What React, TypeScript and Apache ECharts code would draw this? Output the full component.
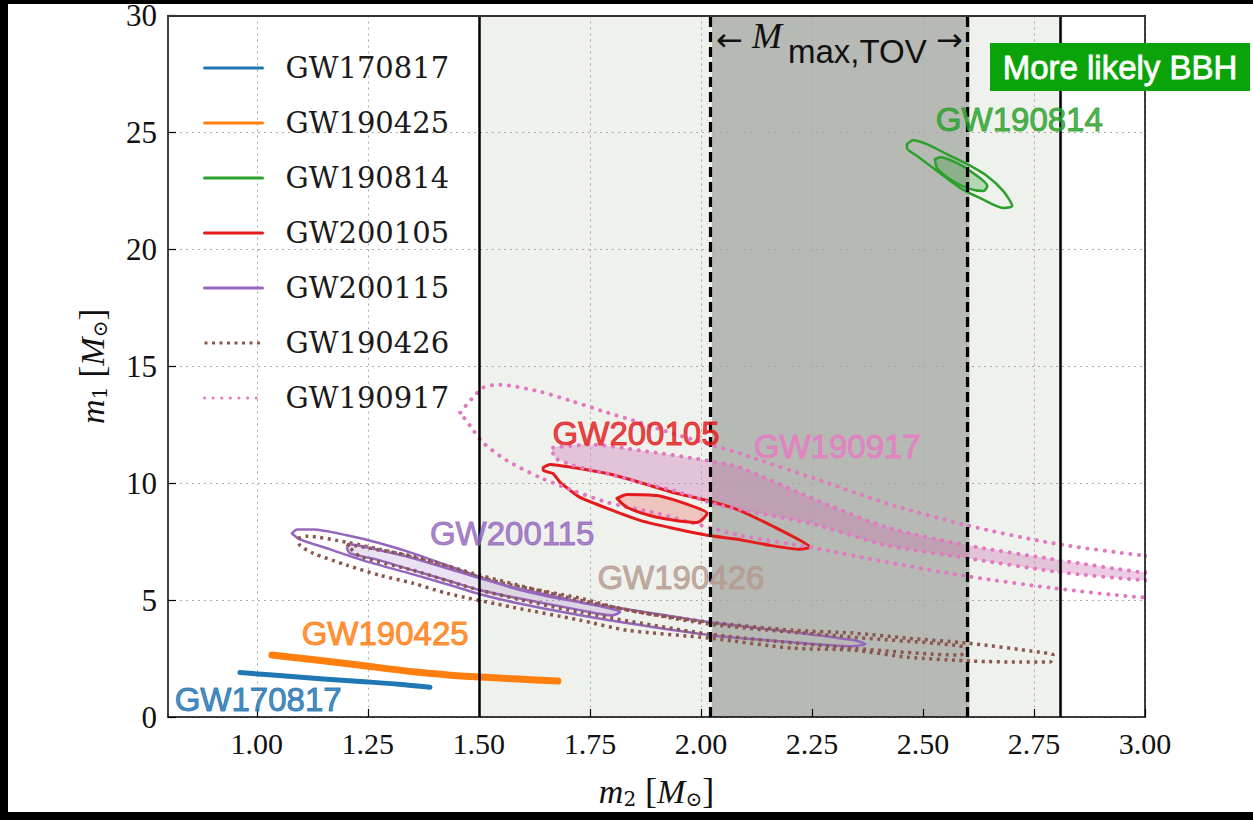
import { useEffect, useRef } from "react";
import * as echarts from "echarts";

// ---------- axes ----------
const X_MIN = 0.8;
const X_MAX = 3.0;
const X_TICKS = [1.0, 1.25, 1.5, 1.75, 2.0, 2.25, 2.5, 2.75, 3.0];
const Y_MIN = 0;
const Y_MAX = 30;
const Y_STEP = 5;

// ---------- regions ----------
const NS_REGION = [1.5, 2.815];
const MTOV_REGION = [2.025, 2.605];

// ---------- events ----------
const LEGEND_NAMES = ["GW170817", "GW190425", "GW190814", "GW200105", "GW200115", "GW190426", "GW190917"];
const LINE_COLORS = ["#1f77b4", "#ff7f0e", "#2ca02c", "#e41a1c", "#9467bd", "#8c564b", "#e377c2"];

// thin posteriors (centre lines)
const GW170817 = [[0.962, 1.9], [1.05, 1.77], [1.15, 1.63], [1.25, 1.5], [1.32, 1.4], [1.39, 1.27]];
const GW190425 = [[1.034, 2.65], [1.12, 2.47], [1.196, 2.3], [1.28, 2.1], [1.359, 1.92], [1.43, 1.8], [1.503, 1.71], [1.59, 1.62], [1.678, 1.54]];

// contour outlines [m2, m1]
const GW190814_OUTER = [[2.464, 24.5], [2.478, 24.67], [2.509, 24.5], [2.554, 24.07], [2.6, 23.64], [2.645, 23.13], [2.681, 22.49], [2.701, 21.85], [2.681, 21.77], [2.629, 22.19], [2.584, 22.62], [2.532, 23.35], [2.487, 23.99], [2.464, 24.33]];
const GW190814_INNER = [[2.527, 23.86], [2.539, 23.94], [2.577, 23.69], [2.613, 23.26], [2.645, 22.71], [2.636, 22.49], [2.6, 22.62], [2.561, 23.0], [2.532, 23.47]];

const GW200105_OUTER = [[1.645, 10.67], [1.66, 10.8], [1.712, 10.67], [1.789, 10.41], [1.863, 10.03], [1.937, 9.6], [2.014, 9.26], [2.088, 8.83], [2.167, 8.11], [2.246, 7.26], [2.223, 7.17], [2.156, 7.34], [2.082, 7.6], [2.014, 7.77], [1.937, 8.07], [1.863, 8.41], [1.789, 8.92], [1.728, 9.39], [1.683, 10.03], [1.667, 10.41], [1.645, 10.54]];
const GW200105_INNER = [[1.811, 9.35], [1.834, 9.52], [1.901, 9.47], [1.976, 9.05], [2.014, 8.71], [1.991, 8.32], [1.901, 8.54], [1.834, 8.96]];

const GW200115_OUTER = [[1.079, 7.85], [1.091, 8.02], [1.127, 8.02], [1.203, 7.77], [1.277, 7.43], [1.352, 7.0], [1.428, 6.49], [1.503, 5.98], [1.577, 5.51], [1.654, 5.16], [1.728, 4.91], [1.834, 4.61], [2.021, 4.05], [2.208, 3.63], [2.343, 3.29], [2.37, 3.12], [2.343, 3.03], [2.178, 3.24], [2.021, 3.5], [1.863, 3.93], [1.728, 4.35], [1.577, 4.91], [1.503, 5.25], [1.428, 5.68], [1.352, 6.1], [1.239, 6.7], [1.165, 7.17], [1.097, 7.6]];
const GW200115_INNER = [[1.203, 7.21], [1.21, 7.38], [1.277, 7.13], [1.352, 6.79], [1.428, 6.36], [1.503, 5.93], [1.577, 5.55], [1.728, 4.91], [1.818, 4.48], [1.8, 4.35], [1.728, 4.57], [1.577, 5.12], [1.503, 5.42], [1.428, 5.85], [1.352, 6.27], [1.277, 6.7], [1.21, 7.0]];

const GW190426_OUTER = [[1.093, 7.64], [1.113, 7.73], [1.203, 7.47], [1.277, 7.17], [1.352, 6.83], [1.428, 6.4], [1.503, 5.98], [1.577, 5.63], [1.728, 5.08], [1.834, 4.57], [2.021, 4.05], [2.208, 3.71], [2.343, 3.59], [2.464, 3.37], [2.6, 3.16], [2.764, 2.77], [2.793, 2.65], [2.786, 2.35], [2.719, 2.35], [2.613, 2.39], [2.464, 2.56], [2.343, 2.86], [2.208, 2.94], [2.021, 3.37], [1.834, 3.71], [1.728, 4.14], [1.577, 4.69], [1.428, 5.29], [1.352, 5.72], [1.277, 6.06], [1.203, 6.49], [1.127, 7.0], [1.097, 7.34]];
const GW190426_INNER = [[1.203, 7.38], [1.352, 6.87], [1.503, 6.06], [1.728, 4.99], [2.021, 3.97], [2.343, 3.41], [2.6, 2.94], [2.584, 2.65], [2.343, 2.94], [2.021, 3.54], [1.728, 4.48], [1.503, 5.42], [1.352, 6.27], [1.232, 6.87]];

const GW190917_OUTER = [[1.458, 13.02], [1.509, 14.08], [1.548, 14.21], [1.638, 13.91], [1.712, 13.49], [1.789, 13.02], [1.863, 12.59], [1.937, 12.12], [2.014, 11.69], [2.088, 11.27], [2.268, 10.12], [2.419, 9.13], [2.6, 8.19], [2.793, 7.43], [2.994, 6.91], [3.06, 6.85], [3.06, 5.1], [2.994, 5.12], [2.793, 5.51], [2.6, 6.02], [2.419, 6.62], [2.246, 7.26], [2.088, 7.77], [1.901, 8.71], [1.789, 9.18], [1.712, 9.69], [1.638, 10.24], [1.563, 10.97], [1.509, 11.74], [1.48, 12.46]];
const GW190917_INNER = [[1.667, 11.52], [1.75, 11.65], [1.863, 11.4], [2.014, 10.97], [2.088, 10.67], [2.246, 9.39], [2.419, 8.11], [2.6, 7.34], [2.809, 6.7], [2.994, 6.19], [3.06, 6.15], [3.06, 5.78], [2.994, 5.85], [2.809, 6.19], [2.6, 6.79], [2.419, 7.34], [2.246, 8.28], [2.043, 9.05], [1.937, 9.69], [1.863, 10.03], [1.789, 10.41], [1.712, 10.76], [1.667, 11.18]];

// ---------- in-plot labels ----------
const LABEL_NAMES = ["GW170817", "GW190425", "GW200115", "GW190426", "GW200105", "GW190917", "GW190814"];
const LABEL_X = [1.003, 1.289, 1.575, 1.955, 1.854, 2.307, 2.717];
const LABEL_Y = [0.73, 3.59, 7.85, 5.98, 12.12, 11.57, 25.57];
const LABEL_COLORS = ["#1a70b0", "#ff7a0a", "#9467bd", "#b59a90", "#e31a1c", "#e77bc4", "#28a028"];

const DOT_PINK: any = [0.1, 8.5];
const DOT_BROWN: any = [3, 4.5];

function closed(pts: number[][]) {
  return [...pts, pts[0]];
}

function contourLine(name: string, pts: number[][], color: string, width: number, type: any, cap = "round", smooth = 0.25) {
  return {
    type: "line",
    name,
    data: closed(pts),
    symbol: "none",
    showSymbol: false,
    smooth,
    clip: true,
    silent: true,
    z: 4,
    itemStyle: { color },
    lineStyle: { color, width, type, cap, join: "round" },
  };
}

function openLine(name: string, pts: number[][], color: string, width: number) {
  return {
    type: "line",
    name,
    data: pts,
    symbol: "none",
    showSymbol: false,
    smooth: 0.3,
    clip: true,
    silent: true,
    z: 4,
    itemStyle: { color },
    lineStyle: { color, width, cap: "round", join: "round" },
  };
}

function fill(name: string, pts: number[][], color: string) {
  return {
    type: "custom",
    name,
    coordinateSystem: "cartesian2d",
    clip: true,
    silent: true,
    z: 3,
    data: [pts[0]],
    renderItem: (_p: any, api: any) => ({
      type: "polygon",
      shape: { points: pts.map((p) => api.coord(p)), smooth: 0.25 },
      style: { fill: color },
    }),
  };
}

const serif = "Liberation Serif";
const sans = "Liberation Sans";

function buildOption() {
  const series: any[] = [];
  series.push({
    type: "line",
    name: "regions",
    data: [],
    z: 1,
    silent: true,
    markArea: {
      silent: true,
      label: { show: false },
      data: [
        [{ xAxis: NS_REGION[0], itemStyle: { color: "#eff1ed" } }, { xAxis: NS_REGION[1] }],
        [{ xAxis: MTOV_REGION[0], itemStyle: { color: "#b6b9b4" } }, { xAxis: MTOV_REGION[1] }],
      ],
    },
  });
  series.push({
    type: "line",
    name: "bounds",
    data: [],
    z: 5,
    silent: true,
    markLine: {
      silent: true,
      symbol: ["none", "none"],
      label: { show: false },
      data: [
        { xAxis: NS_REGION[0], lineStyle: { color: "#000", width: 2.5, type: "solid" } },
        { xAxis: NS_REGION[1], lineStyle: { color: "#000", width: 2.5, type: "solid" } },
        { xAxis: MTOV_REGION[0], lineStyle: { color: "#000", width: 3.2, type: [10, 5] } },
        { xAxis: MTOV_REGION[1], lineStyle: { color: "#000", width: 3.2, type: [10, 5] } },
      ],
    },
  });

  series.push(openLine(LEGEND_NAMES[0], GW170817, LINE_COLORS[0], 5));
  series.push(openLine(LEGEND_NAMES[1], GW190425, LINE_COLORS[1], 7));
  series.push(contourLine(LEGEND_NAMES[2], GW190814_OUTER, LINE_COLORS[2], 2.5, "solid"));
  series.push(contourLine(LEGEND_NAMES[3], GW200105_OUTER, LINE_COLORS[3], 3, "solid", "round", 0.15));
  series.push(contourLine(LEGEND_NAMES[4], GW200115_OUTER, LINE_COLORS[4], 2.5, "solid"));
  series.push(contourLine(LEGEND_NAMES[5], GW190426_OUTER, LINE_COLORS[5], 3.5, DOT_BROWN, "butt"));
  series.push(contourLine(LEGEND_NAMES[6], GW190917_OUTER, LINE_COLORS[6], 4, DOT_PINK));

  series.push(fill("GW190814 fill", GW190814_INNER, "rgba(44,160,44,0.3)"));
  series.push(contourLine("GW190814", GW190814_INNER, LINE_COLORS[2], 2.5, "solid"));
  series.push(fill("GW200105 fill", GW200105_INNER, "rgba(235,80,70,0.28)"));
  series.push(contourLine("GW200105", GW200105_INNER, LINE_COLORS[3], 3, "solid"));
  series.push(fill("GW200115 fill", GW200115_INNER, "rgba(148,103,189,0.2)"));
  series.push(contourLine("GW200115", GW200115_INNER, LINE_COLORS[4], 2.5, "solid"));
  series.push(contourLine("GW190426", GW190426_INNER, LINE_COLORS[5], 3.5, DOT_BROWN, "butt"));
  series.push(fill("GW190917 fill", GW190917_INNER, "rgba(205,120,180,0.38)"));
  series.push(contourLine("GW190917", GW190917_INNER, LINE_COLORS[6], 4, DOT_PINK));

  series.push({
    type: "scatter",
    name: "labels",
    silent: true,
    z: 6,
    symbolSize: 2,
    itemStyle: { color: "rgba(0,0,0,0)" },
    data: LABEL_NAMES.map((n, i) => ({
      name: n,
      value: [LABEL_X[i], LABEL_Y[i]],
      label: { color: LABEL_COLORS[i], textBorderColor: LABEL_COLORS[i] },
    })),
    label: {
      show: true,
      position: "inside",
      formatter: "{b}",
      fontFamily: sans,
      fontSize: 33,
      textBorderWidth: 1,
    },
  });

  const nameRich = (sub: string) => ({
    name: `{i|m}{s|${sub}}{n| [}{i|M}{s|⊙}{n|]}`,
    nameTextStyle: {
      rich: {
        i: { fontFamily: serif, fontStyle: "italic", fontSize: 34, color: "#111" },
        n: { fontFamily: serif, fontSize: 36, color: "#111" },
        s: { fontFamily: "DejaVu Serif", fontSize: 20, color: "#111", padding: [16, 0, 0, 0] },
      },
    },
  });

  return {
    animation: false,
    backgroundColor: "#ffffff",
    grid: { left: 168, right: 108, top: 14, bottom: 103, containLabel: false },
    legend: {
      orient: "vertical",
      left: 198,
      top: 48,
      itemWidth: 58,
      itemHeight: 16,
      itemGap: 25,
      selectedMode: false,
      data: LEGEND_NAMES,
      lineStyle: { width: 3 },
      itemStyle: { opacity: 0, borderWidth: 0 },
      textStyle: { fontFamily: "DejaVu Serif", fontSize: 29, color: "#1a1a1a", lineHeight: 30, padding: [0, 0, 0, 18] },
    },
    xAxis: [
      {
        type: "value",
        min: X_MIN,
        max: X_MAX,
        position: "bottom",
        z: 2,
        ...nameRich("2"),
        nameLocation: "middle",
        nameGap: 56,
        axisLine: { show: true, onZero: false, lineStyle: { color: "#000", width: 1.5 } },
        axisTick: { show: true, inside: true, length: 8, customValues: X_TICKS, lineStyle: { color: "#000", width: 1.2 } },
        axisLabel: {
          customValues: X_TICKS,
          formatter: (v: number) => v.toFixed(2),
          fontFamily: serif,
          fontSize: 30,
          color: "#111",
          margin: 11,
        },
        splitLine: { show: true, lineStyle: { color: "#a8a8a8", width: 1, type: [2, 4] } },
      },
      {
        type: "value",
        min: X_MIN,
        max: X_MAX,
        position: "top",
        z: 6,
        axisLine: { show: true, onZero: false, lineStyle: { color: "#333", width: 2 } },
        axisTick: { show: false },
        axisLabel: { show: false },
        splitLine: { show: false },
      },
    ],
    yAxis: [
      {
        type: "value",
        min: Y_MIN,
        max: Y_MAX,
        interval: Y_STEP,
        position: "left",
        z: 2,
        ...nameRich("1"),
        nameLocation: "middle",
        nameRotate: 90,
        nameGap: 58,
        axisLine: { show: true, onZero: false, lineStyle: { color: "#000", width: 1.5 } },
        axisTick: { show: true, inside: true, length: 8, lineStyle: { color: "#000", width: 1.2 } },
        axisLabel: { fontFamily: serif, fontSize: 31, color: "#111", margin: 11 },
        splitLine: { show: true, lineStyle: { color: "#a8a8a8", width: 1, type: [2, 4] } },
      },
      {
        type: "value",
        min: Y_MIN,
        max: Y_MAX,
        position: "right",
        z: 6,
        axisLine: { show: true, onZero: false, lineStyle: { color: "#000", width: 1.5 } },
        axisTick: { show: false },
        axisLabel: { show: false },
        splitLine: { show: false },
      },
    ],
    graphic: [
      { type: "rect", z: 100, shape: { x: 0, y: 0, width: 1253, height: 4 }, style: { fill: "#000" } },
      { type: "rect", z: 100, shape: { x: 0, y: 0, width: 8, height: 820 }, style: { fill: "#000" } },
      { type: "rect", z: 100, shape: { x: 0, y: 812, width: 1253, height: 8 }, style: { fill: "#000" } },
      { type: "rect", z: 100, shape: { x: 990, y: 43, width: 260, height: 48 }, style: { fill: "#0aa40a" } },
      {
        type: "text",
        z: 101,
        x: 1120,
        y: 67,
        style: { text: "More likely BBH", fill: "#ffffff", stroke: "#ffffff", lineWidth: 0.8, font: `33px "${sans}"`, align: "center", verticalAlign: "middle" },
      },
      { type: "text", z: 101, x: 716, y: 40, style: { text: "←", fill: "#111", font: '32px "DejaVu Sans"', align: "left", verticalAlign: "middle" } },
      { type: "text", z: 101, x: 752, y: 36, style: { text: "M", fill: "#111", font: `italic 36px "${serif}"`, align: "left", verticalAlign: "middle" } },
      { type: "text", z: 101, x: 788, y: 51, style: { text: "max,TOV", fill: "#111", font: `33px "${sans}"`, align: "left", verticalAlign: "middle" } },
      { type: "text", z: 101, x: 936, y: 40, style: { text: "→", fill: "#111", font: '32px "DejaVu Sans"', align: "left", verticalAlign: "middle" } },
    ],
    series,
  };
}

export default function App() {
  const ref = useRef<HTMLDivElement>(null);
  useEffect(() => {
    if (!ref.current) return;
    const chart = echarts.init(ref.current, null, { renderer: "svg" });
    chart.setOption(buildOption() as any);
    return () => chart.dispose();
  }, []);
  return <div ref={ref} style={{ position: "fixed", left: 0, top: 0, width: 1253, height: 820 }} />;
}
